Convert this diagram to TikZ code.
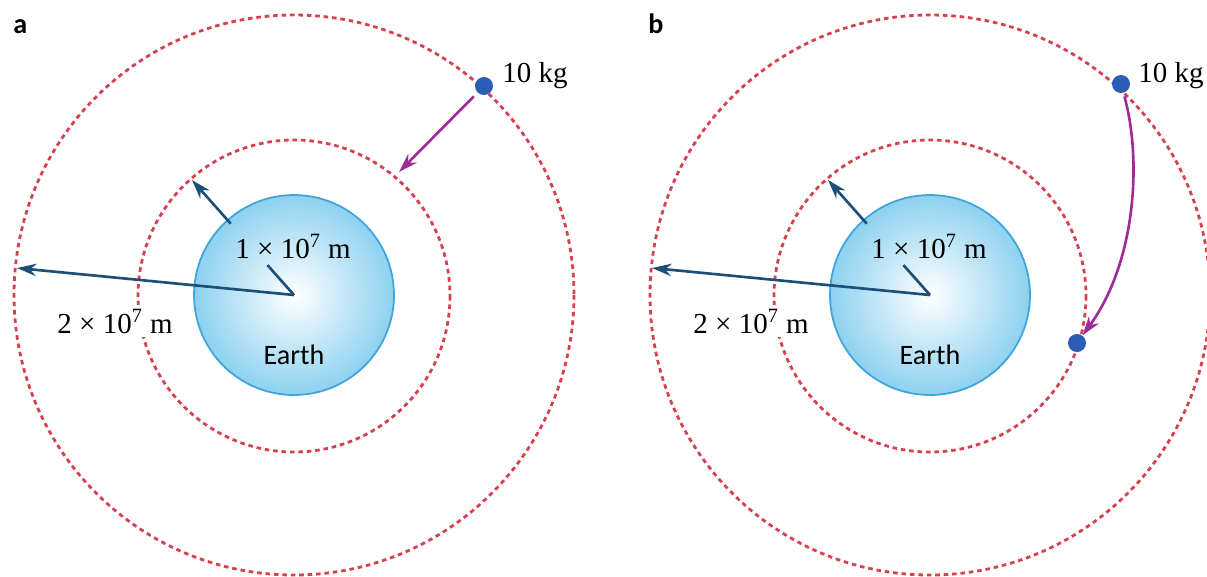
\documentclass[tikz,border=0pt]{standalone}
\usepackage{fontspec}
\setmainfont{Liberation Serif}
\setsansfont{Carlito}
\usetikzlibrary{arrows.meta,calc}

\definecolor{orbitred}{HTML}{D6404F}
\definecolor{massblue}{HTML}{2C5CB6}
\definecolor{radblue}{HTML}{1B4E78}
\definecolor{fallpurple}{HTML}{9C2C97}
\definecolor{earthedge}{HTML}{3FA4DA}
\definecolor{earthfill}{HTML}{8DD1F0}

\begin{document}
\begin{tikzpicture}[
    x=0.02cm, y=-0.02cm,
    >={Stealth[length=11pt,width=7pt]},
    orbit/.style={draw=orbitred, line width=1.6pt, dash pattern=on 2.6pt off 2.2pt},
    earth/.style={
        circle, draw=earthedge, line width=1pt,
        inner color=white, outer color=earthfill,
        minimum size=4cm, inner sep=0pt
    },
    mass/.style={circle, fill=massblue, minimum size=0.36cm, inner sep=0pt},
    lbl/.style={font=\fontsize{16.5}{18}\selectfont, inner sep=0pt},
    earthlbl/.style={font=\sffamily\fontsize{16}{18}\selectfont, inner sep=0pt},
    panel/.style={font=\sffamily\bfseries\fontsize{16}{18}\selectfont, inner sep=0pt},
    radline/.style={draw=radblue, line width=1.5pt},
    fall/.style={->, draw=fallpurple, line width=1.5pt}
]
    \useasboundingbox (0,0) rectangle (1207,576);

    % Panel a
    \node[panel, anchor=base west] (tagA) at (13,33) {a};
    \draw[orbit] (294,295) circle[radius=280];
    \draw[orbit] (294,296) circle[radius=156];
    \node[earth] (earthA) at (294,295) {};
    \node[earthlbl, anchor=base] (nameA) at (294,364) {Earth};

    \coordinate (innerA) at (192,180);
    \coordinate (outerA) at (17,268);
    \node[lbl] (rinA) at (293,246) {1 × 10\textsuperscript{7} m};
    \node[lbl, fill=white, inner sep=2pt] (routA) at (115,321) {2 × 10\textsuperscript{7} m};

    \node[mass] (massA) at (484,86) {};
    \node[lbl, anchor=base west] (kgA) at (502,82) {10 kg};
    \coordinate (landA) at (399,172);

    % Connections a
    \draw[radline, ->] (earthA.center) -- (outerA);
    \draw[radline] (earthA.center) -- ($(earthA.center)!0.26!(innerA)$);
    \draw[radline, ->] ($(earthA.center)!0.62!(innerA)$) -- (innerA);
    \draw[fall, shorten <=3pt] (massA) -- (landA);

    % Panel b
    \node[panel, anchor=base west] (tagB) at (648,33) {b};
    \draw[orbit] (930,295) circle[radius=280];
    \draw[orbit] (930,296) circle[radius=156];
    \node[earth] (earthB) at (930,295) {};
    \node[earthlbl, anchor=base] (nameB) at (930,364) {Earth};

    \coordinate (innerB) at (828,180);
    \coordinate (outerB) at (652,268);
    \node[lbl] (rinB) at (929,246) {1 × 10\textsuperscript{7} m};
    \node[lbl, fill=white, inner sep=2pt] (routB) at (751,321) {2 × 10\textsuperscript{7} m};

    \node[mass] (massB) at (1121,84) {};
    \node[lbl, anchor=base west] (kgB) at (1138,82) {10 kg};
    \node[mass] (lowB) at (1077,343) {};

    % Connections b
    \draw[radline, ->] (earthB.center) -- (outerB);
    \draw[radline] (earthB.center) -- ($(earthB.center)!0.26!(innerB)$);
    \draw[radline, ->] ($(earthB.center)!0.62!(innerB)$) -- (innerB);
    \draw[fall, shorten <=2pt] (massB) .. controls (1142,160) and (1136,262) .. (lowB);

\end{tikzpicture}
\end{document}
